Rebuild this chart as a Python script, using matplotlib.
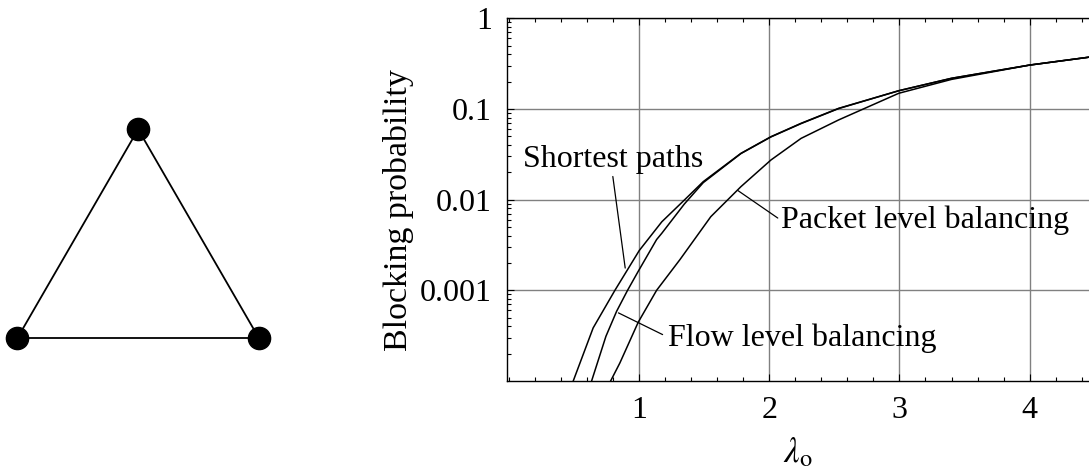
import matplotlib.pyplot as plt
from matplotlib.ticker import FixedLocator, MultipleLocator, LogLocator, NullFormatter

plt.rcParams['font.family'] = ['Liberation Serif', 'DejaVu Serif']
plt.rcParams['mathtext.fontset'] = 'stix'

# network graph (3 nodes in a triangle)
node_x = [0.0, 1.0, 0.5]
node_y = [0.0, 0.0, 0.866]
edges = [(0, 1), (1, 2), (2, 0)]

# blocking probability vs offered load
lam_shortest = [0.496, 0.649, 0.816, 1.003, 1.176, 1.349, 1.494, 1.783, 2.014,
                2.245, 2.533, 2.995, 3.4, 4.0, 4.5]
p_shortest = [1.0e-4, 3.85e-4, 1.0e-3, 2.75e-3, 5.7e-3, 9.9e-3, 0.0158, 0.0324,
              0.0495, 0.0695, 0.1016, 0.159, 0.218, 0.305, 0.38]

lam_flow = [0.637, 0.747, 0.829, 0.913, 0.995, 1.136, 1.176, 1.349, 1.494, 1.783,
            2.014, 2.245, 2.533, 2.995, 3.4, 4.0, 4.5]
p_flow = [1.0e-4, 3.11e-4, 5.87e-4, 1.0e-3, 1.62e-3, 3.63e-3, 4.26e-3, 8.95e-3,
          0.0154, 0.0322, 0.0492, 0.069, 0.101, 0.159, 0.218, 0.305, 0.38]

lam_packet = [0.783, 0.854, 0.995, 1.136, 1.315, 1.552, 1.783, 2.014, 2.245,
              2.533, 2.995, 3.4, 4.0, 4.5]
p_packet = [1.0e-4, 1.58e-4, 4.45e-4, 1.0e-3, 2.18e-3, 6.49e-3, 0.0139, 0.0274,
            0.0474, 0.0757, 0.149, 0.212, 0.305, 0.38]

y_ticks = [1, 0.1, 0.01, 0.001]
y_ticklabels = ['1', '0.1', '0.01', '0.001']
x_ticks = [1, 2, 3, 4]

fs = 23

fig = plt.figure(figsize=(10.89, 4.69), dpi=100)

# left panel: the triangle network
axg = fig.add_axes([17.3 / 1089, (469 - 338.3) / 469, 241.7 / 1089, 209 / 469])
for a, b in edges:
    axg.plot([node_x[a], node_x[b]], [node_y[a], node_y[b]], color='black',
             lw=1.3, zorder=1, clip_on=False)
axg.plot(node_x, node_y, 'o', color='black', ms=16, zorder=2, clip_on=False)
axg.set_xlim(0, 1)
axg.set_ylim(0, 0.866)
axg.axis('off')

# right panel: blocking probability
ax = fig.add_axes([507.3 / 1089, (469 - 381) / 469, 581.7 / 1089, 362.7 / 469])
ax.plot(lam_shortest, p_shortest, color='black', lw=1.1)
ax.plot(lam_flow, p_flow, color='black', lw=1.1)
ax.plot(lam_packet, p_packet, color='black', lw=1.1)

ax.set_yscale('log')
ax.set_xlim(-0.01, 4.455)
ax.set_ylim(1e-4, 1)

ax.xaxis.set_major_locator(FixedLocator(x_ticks))
ax.xaxis.set_minor_locator(MultipleLocator(0.2))
ax.yaxis.set_major_locator(FixedLocator(y_ticks))
ax.set_yticklabels(y_ticklabels)
ax.yaxis.set_minor_locator(LogLocator(base=10, subs=range(2, 10)))
ax.yaxis.set_minor_formatter(NullFormatter())

ax.grid(True, which='major', color='#808080', lw=1.0)
ax.tick_params(which='both', direction='in', top=True, right=False,
               labelsize=fs, width=0.8)
ax.tick_params(which='major', length=5, pad=11)
ax.tick_params(which='minor', length=3)
ax.spines['right'].set_visible(False)
for s in ['left', 'top', 'bottom']:
    ax.spines[s].set_linewidth(1.0)

ax.set_ylabel('Blocking probability', fontsize=24.5)
ax.yaxis.set_label_coords(-0.16, 0.47)
ax.set_xlabel(r'$\lambda_\mathrm{o}$', fontsize=25, labelpad=8)

# curve labels with leader lines
lead = dict(arrowstyle='-', color='black', lw=0.9, shrinkA=0, shrinkB=0)
ax.annotate('', xy=(0.895, 1.76e-3), xytext=(0.80, 0.018), arrowprops=lead)
ax.text(0.107, 0.0232, 'Shortest paths', fontsize=fs, ha='left', va='baseline')

ax.annotate('', xy=(1.76, 0.0126), xytext=(2.066, 6.27e-3), arrowprops=lead)
ax.text(2.094, 4.86e-3, 'Packet level balancing', fontsize=fs, ha='left',
        va='baseline')

ax.annotate('', xy=(0.843, 5.64e-4), xytext=(1.182, 3.25e-4), arrowprops=lead)
ax.text(1.225, 2.42e-4, 'Flow level balancing', fontsize=fs, ha='left',
        va='baseline')

fig.savefig('out.png', dpi=100)
